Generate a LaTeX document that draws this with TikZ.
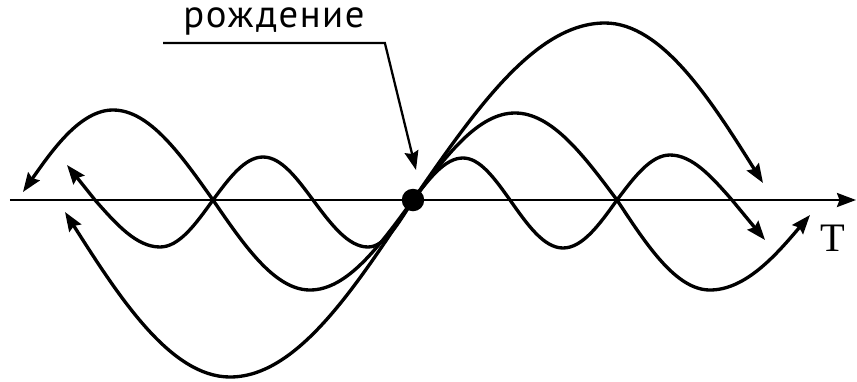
\documentclass[tikz,border=0pt]{standalone}
\usepackage{fontspec}
\setmainfont{Liberation Serif}
\newfontfamily\labelfont[LetterSpace=4]{PT Sans}
\usetikzlibrary{arrows.meta,positioning}

\begin{document}
\begin{tikzpicture}[
    x=0.2mm, y=0.2mm,
    tip/.style={-{Stealth[length=3.8mm, width=2.8mm, inset=0.5mm]}},
    wave/.style={line width=1.9pt, {Stealth[length=3.8mm, width=2.8mm, inset=0.5mm]}-{Stealth[length=3.8mm, width=2.8mm, inset=0.5mm]}},
    axis/.style={tip, line width=1.4pt},
    pointer/.style={tip, line width=1.3pt},
    dot/.style={circle, fill=black, inner sep=0pt, minimum size=4.5mm},
  ]
    \useasboundingbox (-413,-181) rectangle (444,200);

    % ---- time axis ----
    \coordinate (tstart) at (-403,0);
    \coordinate (tend) at (443,0);
    \draw[axis] (tstart) -- (tend);
    \node[font=\fontsize{23}{26}\selectfont] (tlabel) at (420,-38) {T};

    % ---- three waves born at the same point ----
    \draw[wave] (-346,35) -- (-318,0) sin (-253,-47) cos (-200,0) sin (-150,43)
        cos (-100,0) sin (-45,-47) cos (0,0) sin (50,42) cos (97,0) sin (150,-48)
        cos (204,0) sin (257,45) cos (319,0) -- (352,-40);
    \draw[wave] (-390,8) sin (-300,90) cos (-200,0) sin (-103,-90) cos (0,0)
        sin (102,87) cos (204,0) sin (297,-90) cos (397,-15);
    \draw[wave] (-348,-12) sin (-183,-177) cos (0,0) sin (192,177) cos (350,17);

    \node[dot] (birthpt) at (0,0) {};

    % ---- label ----
    \node[font=\labelfont\fontsize{22}{26}\selectfont, anchor=base,
          inner xsep=4mm] (birth) at (-139,173) {рождение};
    \coordinate (aim) at (3,30);
    \draw[pointer] ([yshift=-3.2mm]birth.base west) -- ([yshift=-3.2mm]birth.base east) -- (aim);
  \end{tikzpicture}
\end{document}
